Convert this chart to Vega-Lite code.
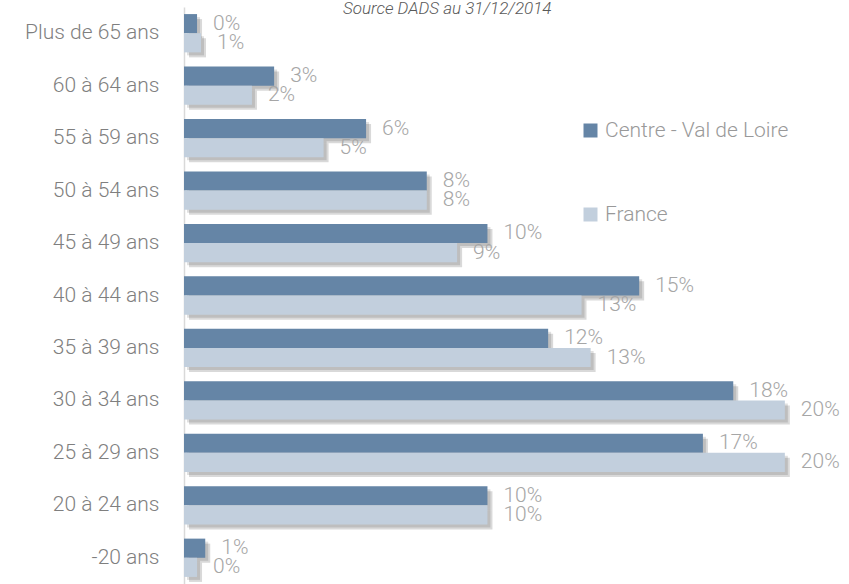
{
  "$schema": "https://vega.github.io/schema/vega-lite/v6.json",
  "autosize": "none",
  "width": 650,
  "height": 577,
  "padding": {"left": 184, "top": 7, "right": 15, "bottom": 0},
  "background": "white",
  "title": {"text": "Source DADS au 31/12/2014", "anchor": "start", "frame": "group", "dx": 159, "dy": 28, "offset": 0, "baseline": "bottom", "fontSize": 17, "fontStyle": "italic", "fontWeight": 300, "color": "#595959", "font": "Roboto"},
  "config": {"view": {"stroke": null}, "font": "Roboto"},
  "resolve": {"scale": {"yOffset": "independent"}},
  "data": {"values": [
    {"age": "Plus de 65 ans", "series": "Centre - Val de Loire", "value": 0.0043},
    {"age": "Plus de 65 ans", "series": "France", "value": 0.0056},
    {"age": "60 à 64 ans", "series": "Centre - Val de Loire", "value": 0.0297},
    {"age": "60 à 64 ans", "series": "France", "value": 0.0224},
    {"age": "55 à 59 ans", "series": "Centre - Val de Loire", "value": 0.060},
    {"age": "55 à 59 ans", "series": "France", "value": 0.046},
    {"age": "50 à 54 ans", "series": "Centre - Val de Loire", "value": 0.080},
    {"age": "50 à 54 ans", "series": "France", "value": 0.080},
    {"age": "45 à 49 ans", "series": "Centre - Val de Loire", "value": 0.100},
    {"age": "45 à 49 ans", "series": "France", "value": 0.090},
    {"age": "40 à 44 ans", "series": "Centre - Val de Loire", "value": 0.150},
    {"age": "40 à 44 ans", "series": "France", "value": 0.131},
    {"age": "35 à 39 ans", "series": "Centre - Val de Loire", "value": 0.120},
    {"age": "35 à 39 ans", "series": "France", "value": 0.134},
    {"age": "30 à 34 ans", "series": "Centre - Val de Loire", "value": 0.181},
    {"age": "30 à 34 ans", "series": "France", "value": 0.198},
    {"age": "25 à 29 ans", "series": "Centre - Val de Loire", "value": 0.171},
    {"age": "25 à 29 ans", "series": "France", "value": 0.198},
    {"age": "20 à 24 ans", "series": "Centre - Val de Loire", "value": 0.100},
    {"age": "20 à 24 ans", "series": "France", "value": 0.100},
    {"age": "-20 ans", "series": "Centre - Val de Loire", "value": 0.007},
    {"age": "-20 ans", "series": "France", "value": 0.0043}
  ]},
  "encoding": {
    "y": {"field": "age", "type": "nominal",
      "sort": ["Plus de 65 ans", "60 à 64 ans", "55 à 59 ans", "50 à 54 ans", "45 à 49 ans", "40 à 44 ans", "35 à 39 ans", "30 à 34 ans", "25 à 29 ans", "20 à 24 ans", "-20 ans"],
      "scale": {"paddingInner": 0.27, "paddingOuter": 0.135},
      "axis": {"title": null, "ticks": false, "domainColor": "#d9d9d9", "domainWidth": 1.5, "labelFontSize": 21, "labelColor": "#7f7f7f", "labelPadding": 25, "labelFont": "Roboto", "labelFontWeight": 300}},
    "x": {"field": "value", "type": "quantitative", "scale": {"domain": [0, 0.2142]}, "axis": null}
  },
  "layer": [
    {"mark": {"type": "bar", "color": "#000000", "opacity": 0.12, "xOffset": 3},
     "encoding": {"yOffset": {"field": "series", "type": "nominal", "sort": ["Centre - Val de Loire", "France"], "scale": {"range": [3, 41.3]}}}},
    {"mark": {"type": "bar", "color": "#000000", "opacity": 0.15, "xOffset": 5},
     "encoding": {"yOffset": {"field": "series", "type": "nominal", "sort": ["Centre - Val de Loire", "France"], "scale": {"range": [5, 43.3]}}}},
    {"mark": {"type": "bar"},
     "encoding": {
       "yOffset": {"field": "series", "type": "nominal", "sort": ["Centre - Val de Loire", "France"]},
       "color": {"field": "series", "type": "nominal",
       "scale": {"domain": ["Centre - Val de Loire", "France"], "range": ["#6585A6", "#C2CFDD"]},
       "legend": {"title": null, "orient": "none", "legendX": 396, "legendY": 113, "symbolType": "square", "symbolSize": 196, "symbolStrokeWidth": 0, "labelFontSize": 21, "labelColor": "#999999", "labelFont": "Roboto", "labelFontWeight": 300, "labelLimit": 400, "rowPadding": 62, "labelOffset": 4}}}},
    {"mark": {"type": "text", "align": "left", "baseline": "middle", "dx": 16, "fontSize": 21, "color": "#a6a6a6", "font": "Roboto", "fontWeight": 300},
     "encoding": {
       "yOffset": {"field": "series", "type": "nominal", "sort": ["Centre - Val de Loire", "France"]},
       "text": {"field": "value", "type": "quantitative", "format": ".0%"}}}
  ]
}
